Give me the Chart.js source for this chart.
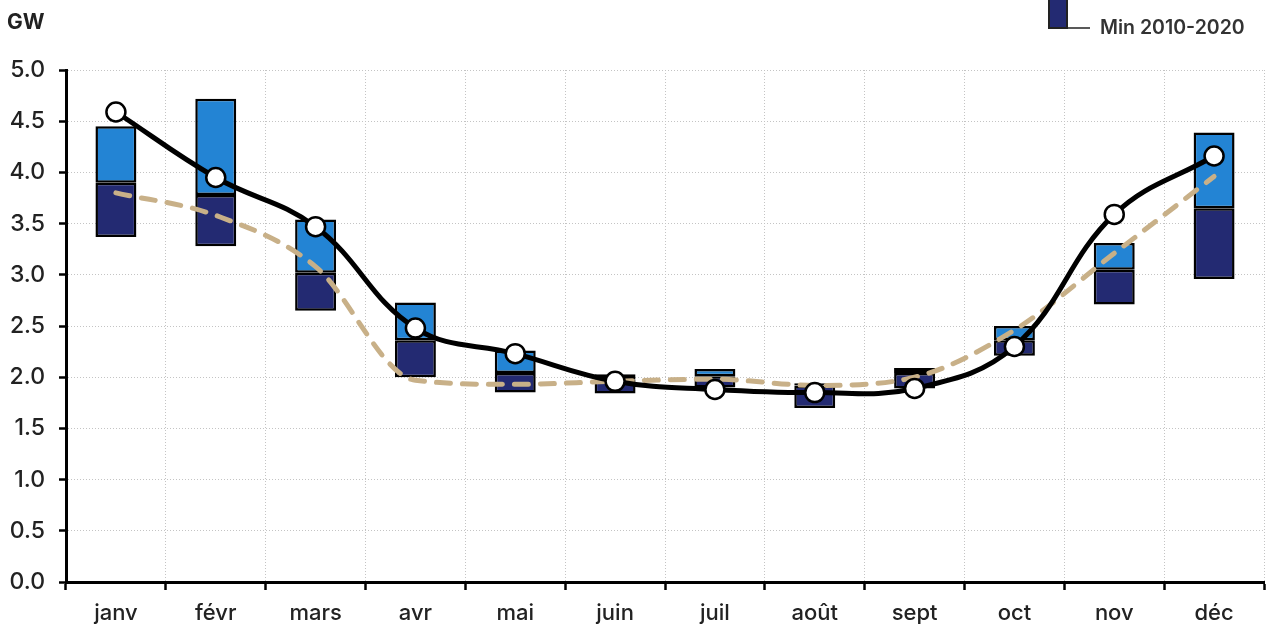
<!DOCTYPE html>
<html>
<head>
<meta charset="utf-8">
<script src="https://cdn.jsdelivr.net/npm/chart.js@4.4.0/dist/chart.umd.min.js"></script>
<style>
  html, body { margin: 0; padding: 0; background: #fff; }
  #wrap { width: 1276px; height: 624px; position: relative; }
</style>
</head>
<body>
<div id="wrap"><canvas id="chart"></canvas></div>
<script>
// Data
const months = ['janv', 'févr', 'mars', 'avr', 'mai', 'juin', 'juil', 'août', 'sept', 'oct', 'nov', 'déc'];
const min2010 = [3.37, 3.28, 2.65, 2.00, 1.85, 1.84, 1.90, 1.70, 1.89, 2.21, 2.71, 2.96];
const mid2010 = [3.90, 3.78, 3.02, 2.36, 2.04, 1.98, 2.01, 1.92, 2.04, 2.36, 3.05, 3.65];
const max2010 = [4.45, 4.72, 3.54, 2.73, 2.26, 2.03, 2.08, 1.94, 2.09, 2.50, 3.31, 4.39];
const current = [4.59, 3.95, 3.47, 2.48, 2.23, 1.96, 1.88, 1.85, 1.89, 2.30, 3.59, 4.16];
const average = [3.80, 3.58, 3.08, 1.97, 1.93, 1.96, 1.98, 1.92, 2.00, 2.46, 3.21, 3.96];
const yTicks = [0, 0.5, 1, 1.5, 2, 2.5, 3, 3.5, 4, 4.5, 5];

Chart.defaults.font.family = "Inter, 'Noto Sans', sans-serif";
Chart.defaults.color = '#222';

// Labels outside the plot: unit and the cropped legend piece
const overlay = {
    id: 'overlay',
    afterDraw(chart) {
        const ctx = chart.ctx;
        ctx.save();
        ctx.fillStyle = '#222';
        ctx.font = "bold 21px Inter, sans-serif";
        ctx.textBaseline = 'middle';
        ctx.fillText('GW', 7, 23);

        ctx.fillStyle = '#232a72';
        ctx.fillRect(1049, -2, 18, 30);
        ctx.strokeStyle = '#222';
        ctx.lineWidth = 2;
        ctx.strokeRect(1049, -2, 18, 30);
        ctx.beginPath();
        ctx.moveTo(1067, 28);
        ctx.lineTo(1090, 28);
        ctx.lineWidth = 1.5;
        ctx.stroke();
        ctx.fillStyle = '#333';
        ctx.font = "600 19.5px Inter, sans-serif";
        ctx.fillText('Min 2010-2020', 1100, 28);
        ctx.restore();
    }
};

const barRanges = (lo, hi) => lo.map((v, i) => [v, hi[i]]);

new Chart(document.getElementById('chart'), {
    type: 'bar',
    data: {
        labels: months,
        datasets: [
            { type: 'line', label: 'Actuel', data: current, borderColor: '#000', borderWidth: 5, tension: 0.4,
              pointRadius: 9.5, pointBackgroundColor: '#fff', pointBorderColor: '#000', pointBorderWidth: 2.5, order: 0 },
            { type: 'line', label: 'Moyenne', data: average, borderColor: '#c8b088', borderWidth: 5,
              cubicInterpolationMode: 'monotone', borderCapStyle: 'round',
              borderDash: [14, 12], pointRadius: 0, order: 1 },
            { label: 'Min 2010-2020', data: barRanges(min2010, mid2010), backgroundColor: '#232a72',
              borderColor: '#000', borderWidth: 2.5, borderSkipped: false, grouped: false, order: 2 },
            { label: 'Max 2010-2020', data: barRanges(mid2010, max2010), backgroundColor: '#2384d4',
              borderColor: '#000', borderWidth: 2.5, borderSkipped: false, grouped: false, order: 3 }
        ]
    },
    options: {
        responsive: true, maintainAspectRatio: false, animation: false,
        layout: { padding: { top: 70, right: 12, left: 0, bottom: 0 } },
        datasets: { bar: { categoryPercentage: 1, barPercentage: 0.41 } },
        plugins: { legend: { display: false }, tooltip: { enabled: false } },
        scales: {
            x: {
                offset: true,
                grid: { offset: true, color: '#c4c4c4', tickColor: '#000', tickLength: 8, tickWidth: 2.5, tickBorderDash: [] },
                border: { color: '#000', width: 3, dash: [1, 2] },
                ticks: { font: { size: 22, weight: 500 }, padding: 10, color: '#222' },
                afterFit(s) { s.height = 42; }
            },
            y: {
                min: 0, max: 5,
                afterBuildTicks(s) { s.ticks = yTicks.map(v => ({ value: v })); },
                grid: { color: '#c4c4c4', tickColor: '#000', tickLength: 7, tickWidth: 2.5, tickBorderDash: [] },
                border: { color: '#000', width: 3, dash: [1, 2] },
                ticks: { font: { size: 23, weight: 500 }, padding: 14, color: '#222', callback: v => v.toFixed(1) },
                afterFit(s) { s.width = 66; }
            }
        }
    },
    plugins: [overlay]
});
</script>
</body>
</html>
